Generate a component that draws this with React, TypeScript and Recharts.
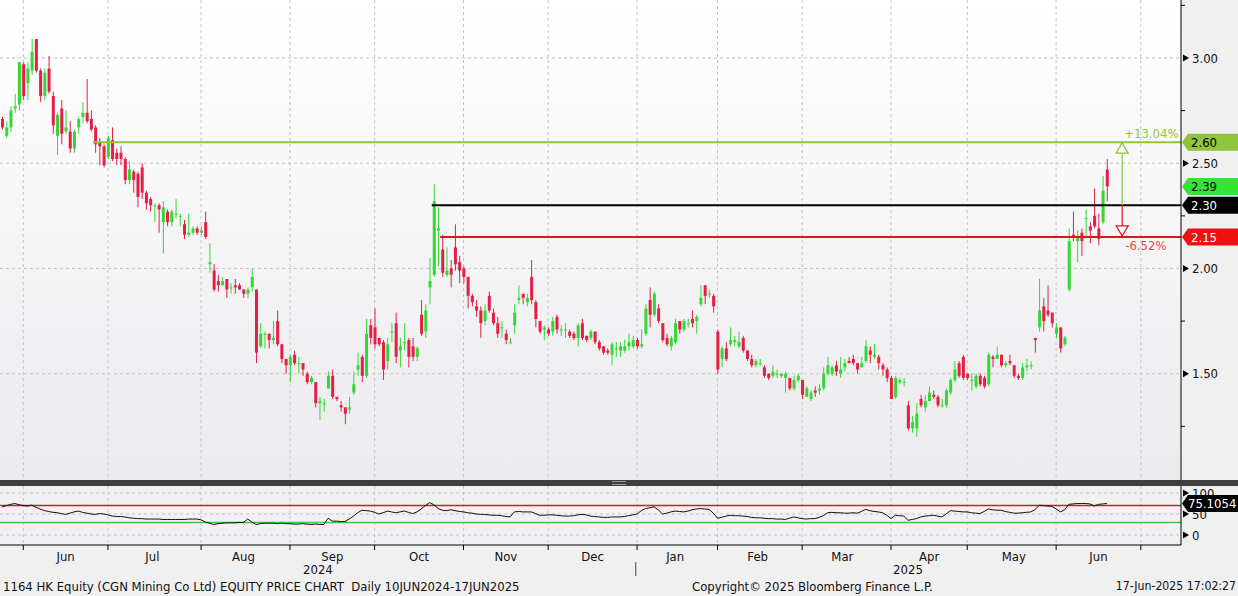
import { ComposedChart, Bar, Line, XAxis, YAxis, CartesianGrid, ReferenceLine, ReferenceDot } from 'recharts';

// daily candles, 1164 HK, late May 2024 .. 17 Jun 2025
const opens = [
  2.71, 2.63, 2.67, 2.76, 2.78, 2.97, 2.88, 2.94, 3.09, 2.94,
  2.82, 2.95, 2.82, 2.63, 2.76, 2.65, 2.65, 2.57, 2.67, 2.72,
  2.74, 2.71, 2.67, 2.60, 2.58, 2.53, 2.61, 2.55, 2.55, 2.52,
  2.42, 2.46, 2.45, 2.48, 2.36, 2.33, 2.30, 2.30, 2.22, 2.27,
  2.22, 2.26, 2.25, 2.21, 2.16, 2.17, 2.19, 2.17, 2.22, 2.02,
  1.99, 1.94, 1.92, 1.95, 1.91, 1.92, 1.92, 1.90, 1.88, 1.91,
  1.90, 1.63, 1.69, 1.69, 1.66, 1.75, 1.64, 1.57, 1.54, 1.59,
  1.55, 1.55, 1.50, 1.46, 1.46, 1.36, 1.36, 1.43, 1.49, 1.39,
  1.35, 1.34, 1.33, 1.41, 1.52, 1.58, 1.49, 1.73, 1.72, 1.67,
  1.65, 1.56, 1.70, 1.74, 1.61, 1.65, 1.66, 1.63, 1.58, 1.78,
  1.70, 1.91, 1.97, 2.18, 2.09, 1.97, 2.00, 2.10, 2.03, 2.00,
  1.96, 1.87, 1.82, 1.80, 1.75, 1.87, 1.79, 1.74, 1.72, 1.69,
  1.65, 1.73, 1.85, 1.88, 1.84, 1.96, 1.84, 1.75, 1.71, 1.71,
  1.70, 1.77, 1.71, 1.71, 1.70, 1.69, 1.67, 1.74, 1.68, 1.67,
  1.70, 1.65, 1.63, 1.61, 1.59, 1.62, 1.61, 1.61, 1.63, 1.63,
  1.66, 1.63, 1.69, 1.85, 1.78, 1.81, 1.74, 1.67, 1.63, 1.65,
  1.75, 1.71, 1.74, 1.76, 1.75, 1.83, 1.92, 1.88, 1.87, 1.70,
  1.57, 1.62, 1.64, 1.65, 1.63, 1.67, 1.61, 1.57, 1.54, 1.55,
  1.53, 1.50, 1.49, 1.50, 1.49, 1.48, 1.48, 1.43, 1.47, 1.47,
  1.39, 1.38, 1.42, 1.42, 1.43, 1.50, 1.50, 1.54, 1.50, 1.53,
  1.56, 1.57, 1.55, 1.53, 1.56, 1.61, 1.58, 1.58, 1.54, 1.52,
  1.48, 1.39, 1.46, 1.46, 1.35, 1.24, 1.24, 1.38, 1.34, 1.37,
  1.40, 1.39, 1.35, 1.35, 1.41, 1.47, 1.55, 1.58, 1.50, 1.47,
  1.44, 1.49, 1.48, 1.45, 1.58, 1.57, 1.59, 1.54, 1.56, 1.54,
  1.49, 1.48, 1.53, 1.54, 1.67, 1.72, 1.82, 1.80, 1.79, 1.69,
  1.72, 1.64, 1.90, 2.16, 2.13, 2.17, 2.24, 2.20, 2.25, 2.19,
  2.22, 2.47,
];
const highs = [
  2.72, 2.70, 2.77, 2.83, 2.98, 2.98, 2.98, 3.09, 3.09, 2.95,
  2.95, 3.01, 2.84, 2.74, 2.80, 2.75, 2.70, 2.66, 2.72, 2.79,
  2.90, 2.75, 2.68, 2.62, 2.59, 2.63, 2.67, 2.57, 2.58, 2.53,
  2.51, 2.47, 2.46, 2.50, 2.37, 2.34, 2.31, 2.31, 2.32, 2.28,
  2.28, 2.33, 2.26, 2.23, 2.26, 2.20, 2.20, 2.20, 2.27, 2.12,
  2.02, 1.97, 1.96, 1.95, 1.93, 1.95, 1.93, 1.90, 1.91, 2.00,
  1.90, 1.74, 1.70, 1.69, 1.75, 1.80, 1.64, 1.57, 1.59, 1.61,
  1.58, 1.55, 1.51, 1.49, 1.46, 1.39, 1.38, 1.51, 1.52, 1.39,
  1.37, 1.34, 1.39, 1.51, 1.60, 1.59, 1.76, 1.76, 1.81, 1.67,
  1.66, 1.67, 1.74, 1.79, 1.67, 1.74, 1.67, 1.67, 1.63, 1.85,
  1.83, 2.05, 2.40, 2.29, 2.16, 2.10, 2.04, 2.21, 2.06, 2.01,
  1.96, 1.88, 1.85, 1.82, 1.83, 1.89, 1.81, 1.77, 1.75, 1.71,
  1.67, 1.83, 1.92, 1.88, 1.88, 2.04, 1.85, 1.75, 1.73, 1.72,
  1.77, 1.78, 1.73, 1.74, 1.71, 1.70, 1.74, 1.76, 1.68, 1.71,
  1.70, 1.66, 1.63, 1.62, 1.65, 1.65, 1.65, 1.66, 1.69, 1.68,
  1.67, 1.71, 1.83, 1.91, 1.89, 1.83, 1.74, 1.69, 1.68, 1.76,
  1.75, 1.76, 1.76, 1.80, 1.78, 1.92, 1.92, 1.90, 1.88, 1.71,
  1.63, 1.65, 1.72, 1.68, 1.70, 1.68, 1.61, 1.59, 1.57, 1.57,
  1.54, 1.50, 1.54, 1.52, 1.50, 1.51, 1.48, 1.49, 1.50, 1.47,
  1.44, 1.42, 1.44, 1.45, 1.53, 1.58, 1.54, 1.56, 1.58, 1.57,
  1.58, 1.59, 1.55, 1.58, 1.66, 1.63, 1.64, 1.59, 1.55, 1.53,
  1.49, 1.49, 1.48, 1.48, 1.37, 1.30, 1.36, 1.40, 1.40, 1.44,
  1.42, 1.40, 1.38, 1.43, 1.48, 1.56, 1.56, 1.59, 1.50, 1.50,
  1.50, 1.50, 1.49, 1.60, 1.59, 1.63, 1.59, 1.56, 1.59, 1.54,
  1.50, 1.55, 1.57, 1.56, 1.67, 1.95, 1.86, 1.92, 1.79, 1.74,
  1.72, 1.68, 2.19, 2.27, 2.18, 2.19, 2.28, 2.22, 2.38, 2.26,
  2.44, 2.52,
];
const lows = [
  2.66, 2.62, 2.65, 2.74, 2.75, 2.80, 2.80, 2.92, 2.93, 2.79,
  2.80, 2.83, 2.64, 2.54, 2.59, 2.64, 2.55, 2.55, 2.64, 2.69,
  2.69, 2.65, 2.55, 2.49, 2.48, 2.52, 2.51, 2.49, 2.49, 2.40,
  2.40, 2.36, 2.29, 2.33, 2.28, 2.27, 2.22, 2.17, 2.07, 2.20,
  2.20, 2.24, 2.20, 2.14, 2.15, 2.16, 2.16, 2.16, 2.14, 1.98,
  1.89, 1.89, 1.92, 1.86, 1.88, 1.88, 1.90, 1.86, 1.86, 1.89,
  1.55, 1.62, 1.62, 1.62, 1.64, 1.63, 1.55, 1.50, 1.46, 1.54,
  1.50, 1.49, 1.45, 1.45, 1.34, 1.28, 1.32, 1.43, 1.38, 1.37,
  1.32, 1.26, 1.31, 1.40, 1.49, 1.46, 1.48, 1.64, 1.62, 1.63,
  1.47, 1.52, 1.65, 1.55, 1.53, 1.61, 1.53, 1.56, 1.56, 1.68,
  1.67, 1.83, 1.96, 2.01, 1.96, 1.96, 1.91, 1.99, 1.93, 1.93,
  1.81, 1.82, 1.77, 1.67, 1.73, 1.79, 1.73, 1.67, 1.67, 1.64,
  1.64, 1.69, 1.83, 1.83, 1.82, 1.83, 1.72, 1.69, 1.66, 1.68,
  1.68, 1.69, 1.68, 1.67, 1.67, 1.66, 1.63, 1.66, 1.65, 1.66,
  1.64, 1.61, 1.59, 1.59, 1.54, 1.58, 1.58, 1.60, 1.61, 1.62,
  1.62, 1.62, 1.68, 1.72, 1.77, 1.74, 1.65, 1.63, 1.61, 1.64,
  1.69, 1.70, 1.72, 1.72, 1.69, 1.82, 1.83, 1.86, 1.79, 1.50,
  1.53, 1.56, 1.63, 1.63, 1.62, 1.60, 1.56, 1.53, 1.53, 1.54,
  1.48, 1.47, 1.48, 1.48, 1.48, 1.41, 1.42, 1.42, 1.46, 1.38,
  1.39, 1.37, 1.39, 1.40, 1.42, 1.49, 1.49, 1.49, 1.48, 1.51,
  1.55, 1.54, 1.50, 1.53, 1.55, 1.55, 1.57, 1.52, 1.49, 1.46,
  1.38, 1.38, 1.45, 1.44, 1.23, 1.22, 1.20, 1.34, 1.32, 1.37,
  1.38, 1.34, 1.34, 1.34, 1.40, 1.46, 1.48, 1.47, 1.47, 1.42,
  1.43, 1.44, 1.43, 1.44, 1.53, 1.57, 1.53, 1.53, 1.54, 1.48,
  1.47, 1.47, 1.51, 1.52, 1.60, 1.70, 1.70, 1.77, 1.72, 1.67,
  1.60, 1.63, 1.89, 2.13, 2.03, 2.06, 2.15, 2.12, 2.19, 2.11,
  2.21, 2.32,
];
const closes = [
  2.67, 2.67, 2.75, 2.77, 2.98, 2.82, 2.95, 3.03, 2.94, 2.82,
  2.93, 2.84, 2.68, 2.73, 2.64, 2.67, 2.57, 2.65, 2.71, 2.74,
  2.70, 2.66, 2.59, 2.58, 2.49, 2.62, 2.52, 2.52, 2.52, 2.42,
  2.47, 2.42, 2.34, 2.36, 2.31, 2.30, 2.30, 2.28, 2.29, 2.22,
  2.27, 2.26, 2.25, 2.16, 2.17, 2.19, 2.17, 2.18, 2.15, 2.03,
  1.90, 1.92, 1.94, 1.90, 1.91, 1.91, 1.90, 1.88, 1.90, 1.96,
  1.60, 1.69, 1.69, 1.66, 1.67, 1.64, 1.57, 1.54, 1.58, 1.55,
  1.55, 1.52, 1.46, 1.48, 1.36, 1.37, 1.36, 1.49, 1.39, 1.38,
  1.34, 1.31, 1.34, 1.45, 1.54, 1.49, 1.69, 1.67, 1.64, 1.64,
  1.52, 1.64, 1.70, 1.58, 1.63, 1.65, 1.58, 1.58, 1.62, 1.69,
  1.80, 1.94, 2.32, 2.19, 1.98, 1.99, 1.97, 2.02, 1.99, 1.96,
  1.87, 1.84, 1.80, 1.74, 1.80, 1.80, 1.74, 1.69, 1.72, 1.66,
  1.65, 1.79, 1.86, 1.86, 1.86, 1.85, 1.76, 1.70, 1.72, 1.69,
  1.75, 1.71, 1.71, 1.71, 1.68, 1.67, 1.73, 1.67, 1.66, 1.70,
  1.65, 1.62, 1.60, 1.60, 1.64, 1.62, 1.63, 1.63, 1.65, 1.66,
  1.63, 1.64, 1.81, 1.78, 1.88, 1.75, 1.66, 1.64, 1.67, 1.74,
  1.71, 1.75, 1.74, 1.74, 1.77, 1.86, 1.87, 1.88, 1.82, 1.52,
  1.62, 1.57, 1.66, 1.66, 1.65, 1.61, 1.57, 1.54, 1.56, 1.55,
  1.49, 1.48, 1.51, 1.50, 1.50, 1.50, 1.43, 1.47, 1.49, 1.40,
  1.43, 1.41, 1.41, 1.43, 1.50, 1.54, 1.53, 1.51, 1.52, 1.55,
  1.55, 1.55, 1.52, 1.55, 1.63, 1.59, 1.59, 1.55, 1.52, 1.48,
  1.38, 1.48, 1.47, 1.46, 1.24, 1.27, 1.31, 1.35, 1.37, 1.41,
  1.39, 1.35, 1.35, 1.42, 1.47, 1.52, 1.49, 1.48, 1.48, 1.47,
  1.49, 1.45, 1.44, 1.59, 1.57, 1.59, 1.54, 1.55, 1.55, 1.49,
  1.48, 1.53, 1.54, 1.54, 1.66, 1.80, 1.75, 1.78, 1.74, 1.72,
  1.62, 1.67, 2.13, 2.15, 2.15, 2.13, 2.24, 2.18, 2.20, 2.14,
  2.37, 2.39,
];
// 14-day RSI as drawn in the lower panel
const rsiValues = [
  67, 70, 73, 75, 72, 70, 69, 71, 66, 62,
  58, 56, 54, 53, 51, 49, 52, 55, 57, 54,
  52, 50, 49, 51, 50, 48, 45, 44, 44, 43,
  41, 40, 39, 39, 38, 38, 38, 38, 37, 37,
  37, 37, 37, 37, 38, 38, 38, 36, 31, 28,
  25, 27, 28, 29, 29, 29, 30, 30, 38, 31,
  25, 27, 28, 28, 28, 27, 28, 27, 27, 26,
  26, 27, 26, 25, 26, 25, 25, 40, 33, 33,
  32, 32, 38, 45, 53, 59, 58, 57, 54, 50,
  53, 57, 55, 53, 55, 57, 54, 51, 55, 62,
  70, 77, 72, 63, 59, 58, 60, 58, 56, 55,
  53, 52, 50, 49, 49, 48, 47, 47, 46, 44,
  43, 55, 56, 55, 55, 55, 51, 47, 47, 48,
  48, 47, 46, 45, 45, 46, 48, 49, 48, 45,
  44, 43, 42, 42, 43, 43, 43, 44, 46, 48,
  50, 58, 63, 65, 67, 60, 50, 52, 55, 57,
  56, 55, 57, 60, 62, 63, 62, 61, 52, 40,
  42, 45, 47, 46, 46, 45, 44, 42, 41, 41,
  40, 39, 39, 38, 38, 37, 40, 43, 41, 39,
  38, 39, 39, 42, 46, 53, 54, 53, 53, 52,
  52, 53, 52, 56, 61, 58, 56, 55, 53, 47,
  39, 47, 46, 45, 35, 37, 39, 43, 45, 46,
  47, 45, 43, 50, 58, 57, 56, 55, 55, 53,
  52, 51, 56, 62, 60, 59, 59, 56, 54, 52,
  52, 53, 54, 55, 60, 71, 70, 69, 68, 62,
  55, 60, 73, 74, 75, 75, 75, 74, 69, 73,
  74, 75.1054,
];

// x-axis (slot index of each trading day, future slots left empty)
const SLOTS = 279;
const monthStarts = [5, 25, 47, 68, 88, 109, 129, 150, 169, 189, 210, 228, 249, 269];
const monthLabelPos = [15, 35.5, 57, 78, 98.5, 119, 139.5, 159, 178.5, 198.5, 219, 239, 259];
const monthNames = ['Jun', 'Jul', 'Aug', 'Sep', 'Oct', 'Nov', 'Dec', 'Jan', 'Feb', 'Mar', 'Apr', 'May', 'Jun'];
const yearPos = [74.6, 214];
const yearNames = ['2024', '2025'];
const yearSplit = 149.7;

// annotation levels
const levels = [
  { value: 2.60, from: 21.5, color: '#8fc43c' },
  { value: 2.30, from: 101.5, color: '#000000' },
  { value: 2.15, from: 103.5, color: '#e0141c' },
];
const arrowAt = 264.6;
const lastRsi = 75.1054;

const priceMajor = [1.5, 2.0, 2.5, 3.0];
const priceMinor = [1.25, 1.75, 2.25, 2.75, 3.25];
const priceTags = [
  { value: 2.60, fill: '#8fc43c', text: '#000' },
  { value: 2.39, fill: '#33e633', text: '#000' },
  { value: 2.30, fill: '#000000', text: '#fff' },
  { value: 2.15, fill: '#ee1111', text: '#fff' },
];
const rsiMajor = [0, 50, 100];

const GREEN = '#34d834';
const RED = '#e61e45';
const FONT = '"DejaVu Sans Condensed", "DejaVu Sans", sans-serif';
const GRID = '#c4c4c8';

const candles = Array.from({ length: SLOTS }, (_, i) => ({
  i,
  o: opens[i],
  h: highs[i],
  l: lows[i],
  c: closes[i],
}));
const rsiData = Array.from({ length: SLOTS }, (_, i) => ({ i, rsi: rsiValues[i] }));

const Candle = (props: any) => {
  const { x, y, width, height, payload } = props;
  if (payload == null || payload.h == null) return <g />;
  const { o, h, l, c } = payload;
  const k = h > l ? height / (h - l) : 0;
  const yOf = (v: number) => y + (h - v) * k;
  const color = c >= o ? GREEN : RED;
  const cx = x + width / 2;
  const top = yOf(Math.max(o, c));
  const bot = yOf(Math.min(o, c));
  return (
    <g>
      <line x1={cx} x2={cx} y1={y} y2={y + height} stroke={color} strokeWidth={1} />
      <rect x={cx - 1.5} y={top} width={3} height={Math.max(bot - top, 1)} fill={color} />
    </g>
  );
};

const tagPath = (x: number, y: number) =>
  `M${x + 1},${y} L${x + 7},${y - 8.5} L${x + 57},${y - 8.5} L${x + 57},${y + 8.5} L${x + 7},${y + 8.5} Z`;

const PriceTick = (props: any) => {
  const { x, y, payload } = props;
  const v = payload.value;
  const tag = priceTags.find((t) => t.value === v);
  if (tag) {
    return (
      <g>
        <path d={tagPath(x, y)} fill={tag.fill} />
        <text x={x + 10} y={y} dy="0.36em" fill={tag.text} fontSize={13} fontFamily={FONT}>{v.toFixed(2)}</text>
      </g>
    );
  }
  if (priceMajor.includes(v)) {
    return (
      <g>
        <path d={`M${x + 2},${y - 3.5} L${x + 8},${y} L${x + 2},${y + 3.5} Z`} fill="#000" />
        <text x={x + 11} y={y} dy="0.36em" fill="#111" fontSize={13} fontFamily={FONT}>{v.toFixed(2)}</text>
      </g>
    );
  }
  return <line x1={x} x2={x + 4} y1={y} y2={y} stroke="#000" />;
};

const RsiTick = (props: any) => {
  const { x, y, payload } = props;
  const v = payload.value;
  if (v === lastRsi) {
    return (
      <g>
        <path d={tagPath(x, y)} fill="#000" />
        <text x={x + 7} y={y} dy="0.36em" fill="#fff" fontSize={13} fontFamily={FONT}>{v.toFixed(4)}</text>
      </g>
    );
  }
  return (
    <g>
      <path d={`M${x + 2},${y - 3.5} L${x + 8},${y} L${x + 2},${y + 3.5} Z`} fill="#000" />
      <text x={x + 11} y={y} dy="0.36em" fill="#111" fontSize={13} fontFamily={FONT}>{v}</text>
    </g>
  );
};

const DateTick = (props: any) => {
  const { x, y, payload } = props;
  const v = payload.value;
  const m = monthLabelPos.indexOf(v);
  if (m >= 0) {
    return <text x={x} y={y + 11} dy="0.36em" textAnchor="middle" fill="#111" fontSize={13} fontFamily={FONT}>{monthNames[m]}</text>;
  }
  const yr = yearPos.indexOf(v);
  if (yr >= 0) {
    return <text x={x} y={y + 24} dy="0.36em" textAnchor="middle" fill="#111" fontSize={13} fontFamily={FONT}>{yearNames[yr]}</text>;
  }
  if (v === yearSplit) {
    return <line x1={x} x2={x} y1={y + 17} y2={y + 31} stroke="#444" />;
  }
  return <line x1={x} x2={x} y1={y} y2={y + 5} stroke="#000" />;
};

const pct = (to: number) => ((to / levels[1].value - 1) * 100).toFixed(2);

const UpMarker = (p: any) => (
  <g>
    <polygon points={`${p.cx},${p.cy + 1} ${p.cx - 6},${p.cy + 11} ${p.cx + 6},${p.cy + 11}`} fill="#fff" stroke="#8fc43c" strokeWidth={1.2} />
    <text x={p.cx + 2} y={p.cy - 9} dy="0.36em" fill="#8fc43c" fontSize={13} fontFamily={FONT}>{`+${pct(levels[0].value)}%`}</text>
  </g>
);

const DownMarker = (p: any) => (
  <g>
    <polygon points={`${p.cx},${p.cy - 1} ${p.cx - 6},${p.cy - 11} ${p.cx + 6},${p.cy - 11}`} fill="#fff" stroke="#e0141c" strokeWidth={1.2} />
    <text x={p.cx + 3} y={p.cy + 8} dy="0.36em" fill="#e8474f" fontSize={13} fontFamily={FONT}>{`${pct(levels[2].value)}%`}</text>
  </g>
);

export default function App() {
  const dateTicks = [...monthStarts, ...monthLabelPos, ...yearPos, yearSplit];
  return (
    <div style={{ position: 'absolute', left: 0, top: 0, width: 1238, height: 596, background: '#f0f0f0', overflow: 'hidden', fontFamily: FONT }}>
      <div style={{ position: 'absolute', left: 0, top: 0, width: 1181, height: 480, background: 'linear-gradient(#ffffff, #ebebee)' }} />
      <div style={{ position: 'absolute', left: 0, top: 486, width: 1181, height: 59, background: '#f1f1f3' }} />

      <div style={{ position: 'absolute', left: 0, top: 0 }}>
        <ComposedChart width={1238} height={480} data={candles} margin={{ top: 0, right: 0, bottom: 0, left: 0 }}>
          <XAxis xAxisId="cat" dataKey="i" type="category" hide />
          <XAxis xAxisId="num" dataKey="i" type="number" domain={[-0.5, SLOTS - 0.5]} allowDataOverflow hide />
          <YAxis
            orientation="right"
            width={57}
            domain={[0.995, 3.2755]}
            allowDataOverflow
            ticks={[...priceMinor, ...priceMajor, ...priceTags.map((t) => t.value)]}
            interval={0}
            tickSize={0}
            tickMargin={0}
            tickLine={false}
            axisLine={{ stroke: '#000' }}
            tick={<PriceTick />}
          />
          <CartesianGrid
            xAxisId="num"
            horizontalValues={priceMajor}
            verticalValues={monthStarts}
            stroke={GRID}
            strokeDasharray="3 3"
            fill="none"
          />
          <Bar
            xAxisId="cat"
            dataKey={(d: any) => (d.h == null ? null : [d.l, d.h])}
            barSize={3}
            shape={<Candle />}
            isAnimationActive={false}
          />
          {levels.map((lv) => (
            <ReferenceLine
              key={lv.value}
              xAxisId="num"
              segment={[{ x: lv.from, y: lv.value }, { x: SLOTS - 0.5, y: lv.value }]}
              stroke={lv.color}
              strokeWidth={2}
            />
          ))}
          <ReferenceLine xAxisId="num" segment={[{ x: arrowAt, y: levels[0].value }, { x: arrowAt, y: levels[1].value }]} stroke="#8fc43c" strokeWidth={1.2} />
          <ReferenceLine xAxisId="num" segment={[{ x: arrowAt, y: levels[1].value }, { x: arrowAt, y: levels[2].value }]} stroke="#e0141c" strokeWidth={1.2} />
          <ReferenceDot xAxisId="num" x={arrowAt} y={levels[0].value} shape={<UpMarker />} />
          <ReferenceDot xAxisId="num" x={arrowAt} y={levels[2].value} shape={<DownMarker />} />
        </ComposedChart>
      </div>

      <div style={{ position: 'absolute', left: 0, top: 486 }}>
        <ComposedChart width={1238} height={110} data={rsiData} margin={{ top: 0, right: 0, bottom: 0, left: 0 }}>
          <XAxis
            dataKey="i"
            type="number"
            domain={[-0.5, SLOTS - 0.5]}
            allowDataOverflow
            ticks={dateTicks}
            interval={0}
            height={51}
            tickSize={0}
            tickMargin={0}
            tickLine={false}
            axisLine={{ stroke: '#000' }}
            tick={<DateTick />}
          />
          <YAxis
            orientation="right"
            width={57}
            domain={[-23.8, 116.7]}
            allowDataOverflow
            ticks={[...rsiMajor, lastRsi]}
            interval={0}
            tickSize={0}
            tickMargin={0}
            tickLine={false}
            axisLine={{ stroke: '#000' }}
            tick={<RsiTick />}
          />
          <CartesianGrid horizontalValues={rsiMajor} verticalValues={monthStarts} stroke={GRID} strokeDasharray="3 3" fill="none" />
          <ReferenceLine y={70} stroke="#c0262c" strokeWidth={1.5} />
          <ReferenceLine y={30} stroke="#3ccc3c" strokeWidth={1.5} />
          <Line dataKey="rsi" stroke="#111" strokeWidth={1} dot={false} isAnimationActive={false} />
        </ComposedChart>
      </div>

      <div style={{ position: 'absolute', left: 0, top: 480, width: 1238, height: 6, background: '#3e3e3e' }} />
      <div style={{ position: 'absolute', left: 612, top: 481, width: 14, height: 1, background: '#9a9a9a' }} />
      <div style={{ position: 'absolute', left: 612, top: 484, width: 14, height: 1, background: '#9a9a9a' }} />

      <div style={{ position: 'absolute', left: 3, top: 579, fontSize: 13, color: '#111', whiteSpace: 'nowrap' }}>
        1164 HK Equity (CGN Mining Co Ltd) EQUITY PRICE CHART&nbsp; Daily 10JUN2024-17JUN2025
      </div>
      <div style={{ position: 'absolute', left: 692, top: 579, fontSize: 13, color: '#111', whiteSpace: 'nowrap' }}>
        Copyright© 2025 Bloomberg Finance L.P.
      </div>
      <div style={{ position: 'absolute', right: 2, top: 579, fontSize: 12.2, color: '#111', whiteSpace: 'nowrap' }}>
        17-Jun-2025 17:02:27
      </div>
    </div>
  );
}
